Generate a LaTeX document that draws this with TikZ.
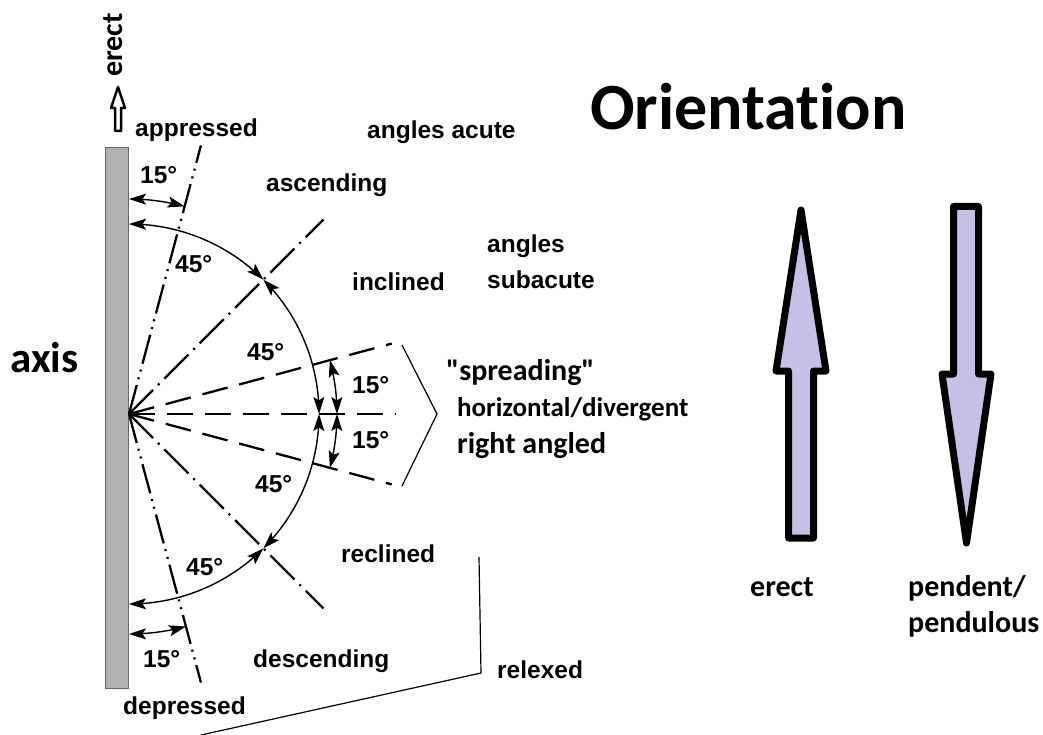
\documentclass[tikz,border=0pt]{standalone}
\usepackage{fontspec}
\setmainfont{Liberation Sans}
\newfontfamily\calib[Ligatures=NoCommon]{Carlito}
\usetikzlibrary{arrows.meta,calc}
\definecolor{lav}{RGB}{199,191,229}
\definecolor{axisgray}{RGB}{178,178,178}
\begin{document}
\begin{tikzpicture}[x=1pt,y=-1pt,
 lbl/.style={font=\bfseries\fontsize{24.5}{28}\selectfont, anchor=base west, inner sep=0pt},
 clbl/.style={font=\calib\bfseries\fontsize{30}{34}\selectfont, anchor=base west, inner sep=0pt},
 ray/.style={line width=2.3pt},
 dsh/.style={ray, dash pattern=on 26pt off 12pt},
 dashdot/.style={ray, dash pattern=on 34pt off 7pt on 2pt off 7pt},
 dashdotdot/.style={ray, dash pattern=on 30pt off 6pt on 2pt off 6pt on 2pt off 6pt},
 tip/.tip={Stealth[length=17pt,width=11pt,inset=3.5pt]},
 dim/.style={line width=1.4pt, tip-tip},
 thinline/.style={line width=1.2pt},
 bigarrow/.style={draw=black, fill=lav, line width=7pt, line join=round},
]
\useasboundingbox (0,0) rectangle (1043,735);
\fill[white] (0,0) rectangle (1043,735);

% axis bar
\draw[fill=axisgray, draw=gray!80!black, line width=0.8pt] (105,147) rectangle (128,688);
\coordinate (O) at (129,414);

% rays
\draw[dsh] (O) -- +(0:267) coordinate (h);
\draw[dsh] (O) -- +(-15:272) coordinate (u15);
\draw[dsh] (O) -- +(15:272) coordinate (d15);
\draw[dashdot] (O) -- +(-45:275) coordinate (u45);
\draw[dashdot] (O) -- +(45:275) coordinate (d45);
\draw[dashdotdot] (O) -- +(-75:278) coordinate (u75);
\draw[dashdotdot] (O) -- +(75:278) coordinate (d75);

% dimension arcs
\draw[dim] plot[domain=-90:-75, samples=12, smooth] ({129+215*cos(\x)},{414+215*sin(\x)});
\draw[dim] plot[domain=-90:-45, samples=30, smooth] ({129+190*cos(\x)},{414+190*sin(\x)});
\draw[dim] plot[domain=-45:0, samples=30, smooth] ({129+190*cos(\x)},{414+190*sin(\x)});
\draw[dim] plot[domain=0:45, samples=30, smooth] ({129+190*cos(\x)},{414+190*sin(\x)});
\draw[dim] plot[domain=45:90, samples=30, smooth] ({129+190*cos(\x)},{414+190*sin(\x)});
\draw[dim] plot[domain=75:90, samples=12, smooth] ({129+220*cos(\x)},{414+220*sin(\x)});
\draw[dim] plot[domain=-15:0, samples=12, smooth] ({129+208*cos(\x)},{414+208*sin(\x)});
\draw[dim] plot[domain=0:15, samples=12, smooth] ({129+208*cos(\x)},{414+208*sin(\x)});

% chevron and relexed bracket
\coordinate (c1) at (402,345); \coordinate (c2) at (437,414); \coordinate (c3) at (402,486);
\draw[thinline] (c1) -- (c2) -- (c3);
\coordinate (r1) at (479,557); \coordinate (r2) at (481,673); \coordinate (r3) at (201,735);
\draw[thinline] (r1) -- (r2) -- (r3);

% small erect arrow
\draw[line width=2.5pt, fill=white, line join=round] (118,87) -- (125,108) -- (121,108) -- (121,131) -- (115,131) -- (115,108) -- (111,108) -- cycle;

% big arrows
\draw[bigarrow] (801,210) -- (826,371) -- (813.5,371) -- (813.5,538) -- (788.5,538) -- (788.5,371) -- (776,371) -- cycle;
\draw[bigarrow] (953.5,206.5) -- (978.5,206.5) -- (978.5,374) -- (991,374) -- (966.5,543) -- (942,374) -- (953.5,374) -- cycle;

% labels
\node[clbl, rotate=90, anchor=base] (erectv) at (122,45) {erect};
\node[lbl] (appr) at (135,137) {appressed};
\node[lbl] (acute) at (367,139) {angles acute};
\node[lbl] (asc) at (266,192) {ascending};
\node[lbl] (ang) at (487,252) {angles};
\node[lbl] (subac) at (487,288) {subacute};
\node[lbl] (incl) at (352,290) {inclined};
\node[clbl, font=\calib\bfseries\fontsize{43}{48}\selectfont] (axis) at (10,372) {axis};
\node[clbl] (spread) at (446,380) {"spreading"};
\node[clbl, font=\calib\bfseries\fontsize{27}{31}\selectfont] (hor) at (457,416) {horizontal/divergent};
\node[clbl] (right) at (457,453) {right angled};
\node[lbl] (recl) at (341,562) {reclined};
\node[lbl] (desc) at (253,667) {descending};
\node[lbl] (relx) at (497,678) {relexed};
\node[lbl] (depr) at (123,714) {depressed};
\node[clbl, font=\calib\bfseries\fontsize{66}{72}\selectfont] (title) at (590,130) {Orientation};
\node[clbl] (erect) at (750,596) {erect};
\node[clbl] (pend) at (908,596) {pendent/};
\node[clbl] (pendu) at (908,632) {pendulous};

\node[lbl] (a1) at (140,184) {15°};
\node[lbl] (a2) at (175,272) {45°};
\node[lbl] (a3) at (247,360) {45°};
\node[lbl] (a4) at (352,393) {15°};
\node[lbl] (a5) at (352,448) {15°};
\node[lbl] (a6) at (255,492) {45°};
\node[lbl] (a7) at (186,575) {45°};
\node[lbl] (a8) at (143,667) {15°};
\end{tikzpicture}
\end{document}
